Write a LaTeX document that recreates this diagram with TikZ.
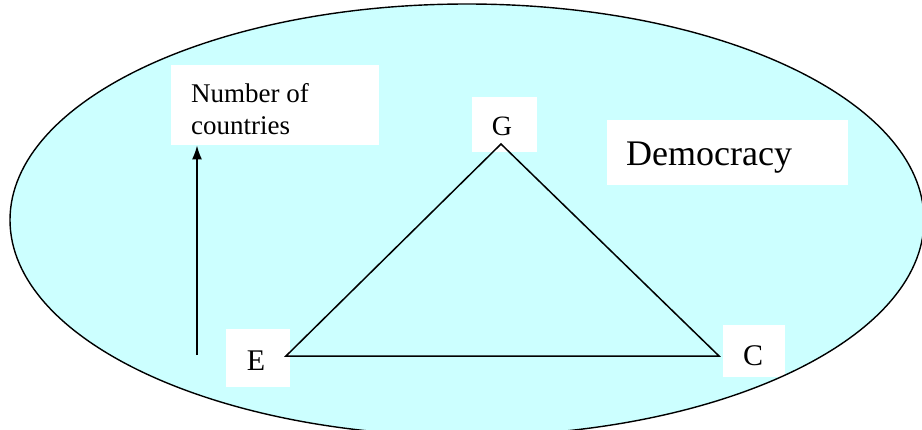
\documentclass[tikz,border=0pt]{standalone}
\usepackage{fontspec}
\setmainfont{Liberation Serif}
\usetikzlibrary{arrows.meta}
\definecolor{lightcyan}{RGB}{204,255,255}
\begin{document}
\begin{tikzpicture}[x=1pt,y=-1pt,
  wbox/.style={fill=white,draw=none,inner sep=0pt,anchor=north west},
  txt/.style={inner sep=0pt,text=black},
  edge/.style={line width=1.5pt,black},
]
\useasboundingbox (0,0) rectangle (922,429);
\fill[white] (0,0) rectangle (922,429);
\begin{scope}
\clip (0,0) rectangle (922,429);
\fill[lightcyan] (467,220) ellipse [x radius=457, y radius=216];
\end{scope}
% white boxes
\node[wbox,minimum width=208pt,minimum height=80pt] (nbox) at (171,65) {};
\node[wbox,minimum width=65pt,minimum height=55pt] (gbox) at (472,97) {};
\node[wbox,minimum width=241pt,minimum height=65pt] (dbox) at (607,120) {};
\node[wbox,minimum width=64pt,minimum height=58pt] (ebox) at (226,329) {};
\node[wbox,minimum width=62pt,minimum height=52pt] (cbox) at (723,325) {};
\begin{scope}
\clip (0,0) rectangle (922,429);
\draw[line width=1.4pt] (467,220) ellipse [x radius=457, y radius=216];
\end{scope}
% texts
\node[txt,anchor=north west,align=left,font=\fontsize{27}{32}\selectfont] (ntext) at (191,83.5) {Number of\\countries};
\node[txt,anchor=base,font=\fontsize{28}{32}\selectfont] (gtext) at (502,135) {G};
\node[txt,anchor=base west,font=\fontsize{36}{40}\selectfont] (dtext) at (626,165) {Democracy};
\node[txt,anchor=base,font=\fontsize{30}{34}\selectfont] (etext) at (256,370) {E};
\node[txt,anchor=base,font=\fontsize{30}{34}\selectfont] (ctext) at (753,365) {C};
% triangle
\coordinate (gv) at (501,144);
\coordinate (ev) at (286,356);
\coordinate (cv) at (719,356);
\draw[edge,line join=miter] (ev) -- (gv) -- (cv) -- cycle;
% arrow
\coordinate (abase) at (197,355);
\draw[edge,-{Latex[length=14pt,width=10pt]}] (abase) -- (abase |- nbox.south);
\end{tikzpicture}
\end{document}
